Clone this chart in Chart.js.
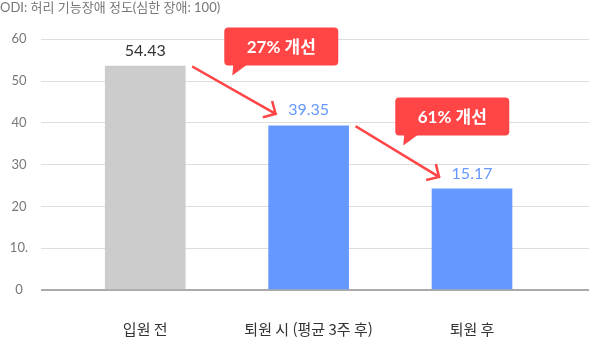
<!DOCTYPE html>
<html lang="ko">
<head>
<meta charset="utf-8">
<title>ODI</title>
<script src="https://cdn.jsdelivr.net/npm/chart.js@4"></script>
<style>
    html, body { margin: 0; padding: 0; background: #ffffff; }
    #grafico { display: block; }
</style>
</head>
<body>
<canvas id="grafico" width="589" height="339"></canvas>
<script>
// Dados do gráfico
const titulo = 'ODI: 허리 기능장애 정도(심한 장애: 100)';
const categorias = ['입원 전', '퇴원 시 (평균 3주 후)', '퇴원 후'];
const posicoes = [1, 2, 3];
const alturas = [53.6, 39.3, 24.2];          // altura das barras
const rotulosValor = ['54.43', '39.35', '15.17'];
const melhorias = ['27% 개선', '61% 개선'];
const ticksY = [0, 10, 20, 30, 40, 50, 60];
const rotulosY = ['0', '10.', '20', '30', '40', '50', '60'];

const coresBarras = ['#cccccc', '#6699ff', '#6699ff'];
const coresTexto = ['#333333', '#6699ff', '#6699ff'];
const vermelho = '#ff4545';

// Onde a ponta do balão encosta na seta (fração do comprimento e recuo vertical)
const fracBalao = [0.474, 0.566];
const recuoBalao = [-13.8, -9.7];

// Desenha uma seta de (x1,y1) até (x2,y2)
function desenharSeta(ctx, x1, y1, x2, y2) {
    const ang = Math.atan2(y2 - y1, x2 - x1);
    const tam = 12;
    ctx.save();
    ctx.strokeStyle = vermelho;
    ctx.lineWidth = 2.5;
    ctx.lineCap = 'square';
    ctx.beginPath();
    ctx.moveTo(x1, y1);
    ctx.lineTo(x2, y2);
    ctx.moveTo(x2 + tam * Math.cos(ang + Math.PI - Math.PI / 4), y2 + tam * Math.sin(ang + Math.PI - Math.PI / 4));
    ctx.lineTo(x2, y2);
    ctx.lineTo(x2 + tam * Math.cos(ang + Math.PI + Math.PI / 4), y2 + tam * Math.sin(ang + Math.PI + Math.PI / 4));
    ctx.stroke();
    ctx.restore();
}

// Balão vermelho com a porcentagem de melhoria
function desenharBalao(ctx, pontaX, pontaY, texto) {
    const larg = 114, alt = 38, raio = 4;
    const esq = pontaX - 8;
    const base = pontaY - 10;
    const topo = base - alt;
    ctx.save();
    ctx.fillStyle = vermelho;
    ctx.beginPath();
    ctx.roundRect(esq, topo, larg, alt, raio);
    ctx.fill();
    ctx.beginPath();
    ctx.moveTo(esq + 9, base - 1);
    ctx.lineTo(pontaX, pontaY);
    ctx.lineTo(esq + 23, base - 1);
    ctx.closePath();
    ctx.fill();
    ctx.fillStyle = '#ffffff';
    ctx.font = 'bold 17px Lato, "Noto Sans CJK KR"';
    ctx.textAlign = 'center';
    ctx.textBaseline = 'middle';
    ctx.fillText(texto, esq + larg / 2, topo + alt / 2 + 1);
    ctx.restore();
}

const pluginAnotacoes = {
    id: 'anotacoes',
    afterDatasetsDraw(chart) {
        const ctx = chart.ctx;
        const barras = chart.getDatasetMeta(0).data;

        // valores acima das barras
        ctx.save();
        ctx.font = '16px Lato, "Noto Sans CJK KR"';
        ctx.textAlign = 'center';
        ctx.textBaseline = 'middle';
        barras.forEach((b, i) => {
            ctx.fillStyle = coresTexto[i];
            ctx.fillText(rotulosValor[i], b.x, b.y - 15.5);
        });
        ctx.restore();

        // setas e balões entre as barras
        for (let i = 0; i < melhorias.length; i++) {
            const a = barras[i];
            const p = barras[i + 1];
            const x1 = a.x + a.width / 2 + 8;
            const y1 = a.y + 1;
            const x2 = p.x - 33;
            const y2 = p.y - 12;
            desenharSeta(ctx, x1, y1, x2, y2);
            const pontaX = x1 + (x2 - x1) * fracBalao[i];
            const pontaY = y1 + (y2 - y1) * fracBalao[i] + recuoBalao[i];
            desenharBalao(ctx, pontaX, pontaY, melhorias[i]);
        }
    }
};

const ctx = document.getElementById('grafico').getContext('2d');
new Chart(ctx, {
    type: 'bar',
    data: {
        datasets: [{
            data: posicoes.map((x, i) => ({ x: x, y: alturas[i] })),
            backgroundColor: coresBarras,
            borderWidth: 0,
            barThickness: 80
        }]
    },
    options: {
        responsive: false,
        animation: false,
        devicePixelRatio: 1,
        layout: { padding: { left: 0, right: 0, top: 0, bottom: 0 } },
        plugins: {
            legend: { display: false },
            tooltip: { enabled: false },
            title: {
                display: true,
                text: titulo,
                align: 'start',
                color: '#777777',
                font: { family: 'Lato, "Noto Sans CJK KR"', size: 13, weight: 'normal' },
                padding: { top: 0, bottom: 23.7 }
            }
        },
        scales: {
            x: {
                type: 'linear',
                min: 0.362,
                max: 3.716,
                offset: false,
                grid: { display: false, drawTicks: false },
                border: { display: false },
                afterFit: (scale) => { scale.height = 49; },
                afterBuildTicks: (scale) => {
                    scale.ticks = posicoes.map(v => ({ value: v }));
                },
                ticks: {
                    autoSkip: false,
                    maxRotation: 0,
                    padding: 30,
                    color: '#333333',
                    font: { family: '"Noto Sans CJK KR", Lato', size: 15 },
                    callback: (v) => categorias[posicoes.indexOf(v)] || ''
                }
            },
            y: {
                min: 0,
                max: 60,
                border: { display: false },
                grid: {
                    drawTicks: false,
                    color: (c) => c.tick && c.tick.value === 0 ? '#aaaaaa' : '#dddddd',
                    lineWidth: (c) => c.tick && c.tick.value === 0 ? 2 : 1
                },
                afterFit: (scale) => { scale.width = 41; },
                afterBuildTicks: (scale) => {
                    scale.ticks = ticksY.map(v => ({ value: v }));
                },
                ticks: {
                    crossAlign: 'center',
                    padding: 13,
                    color: '#777777',
                    font: { family: 'Lato, "Noto Sans CJK KR"', size: 13 },
                    callback: (v) => rotulosY[ticksY.indexOf(v)]
                }
            }
        }
    },
    plugins: [pluginAnotacoes]
});
</script>
</body>
</html>
